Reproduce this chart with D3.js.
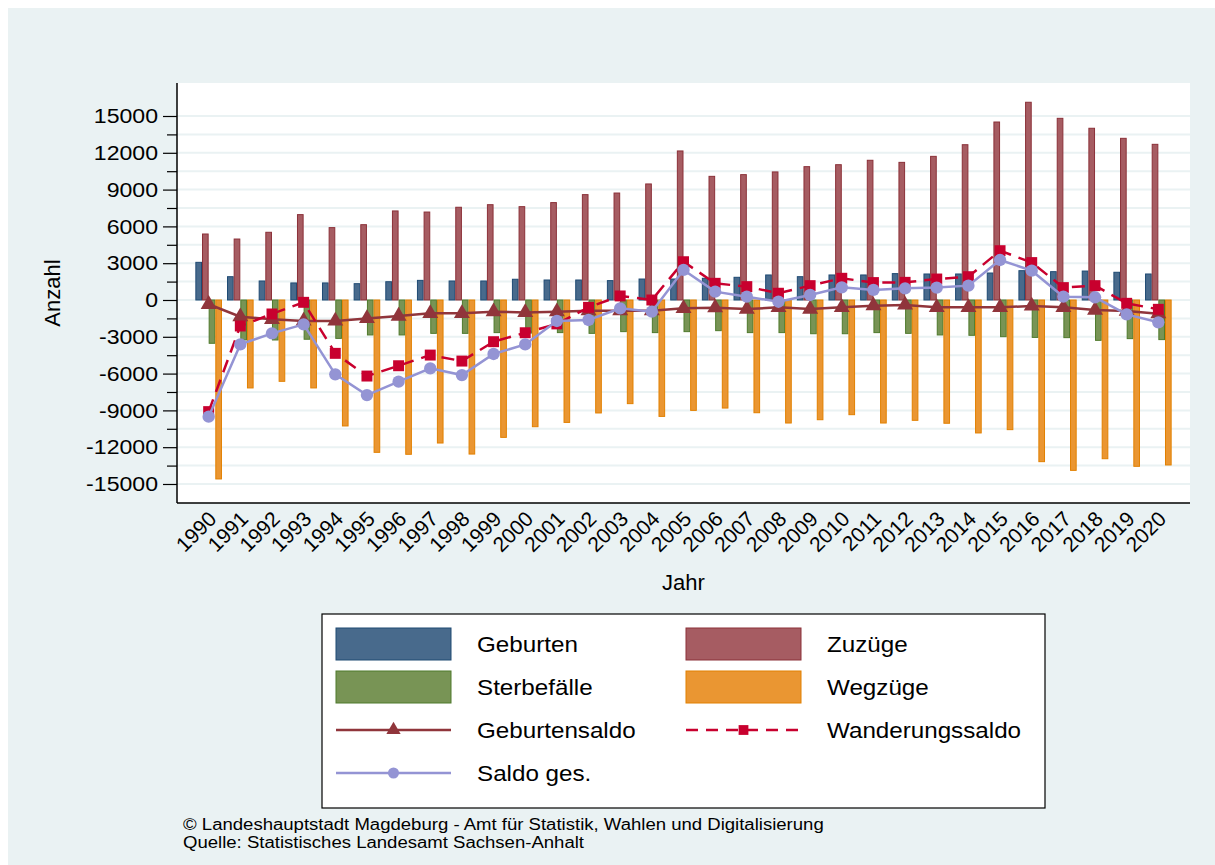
<!DOCTYPE html>
<html>
  <head>
    <title>Bevölkerungsbewegung Magdeburg</title>
    <meta http-equiv="Content-Type" content="text/html; charset=utf-8">
    <style type="text/css">
      body { margin: 0; background: #fff; }
      text { font-family: "Liberation Sans", Arial, sans-serif; fill: #000; }
      .grid line { stroke: #eaf2f3; stroke-width: 2; }
    </style>
  </head>
  <body>
    <div id="main"></div>

    <script src="https://d3js.org/d3.v7.min.js"></script>
    <script>
    // chart data
    var years = [1990, 1991, 1992, 1993, 1994, 1995, 1996, 1997, 1998, 1999, 2000,
                 2001, 2002, 2003, 2004, 2005, 2006, 2007, 2008, 2009, 2010,
                 2011, 2012, 2013, 2014, 2015, 2016, 2017, 2018, 2019, 2020];
    var geburten = [3070, 1900, 1550, 1390, 1390, 1330, 1490, 1600, 1550, 1550, 1690,
                    1630, 1630, 1580, 1710, 1710, 1770, 1850, 2040, 1900, 2040,
                    2040, 2150, 2120, 2120, 2200, 2390, 2310, 2360, 2260, 2120];
    var zuzuege = [5380, 4970, 5520, 6960, 5900, 6140, 7260, 7170, 7560, 7770, 7610,
                   7940, 8590, 8720, 9460, 12150, 10080, 10220, 10440, 10870, 11030,
                   11390, 11220, 11710, 12660, 14510, 16120, 14810, 14000, 13180, 12690];
    var sterbefaelle = [-3530, -3260, -3260, -3200, -3130, -2850, -2850, -2720, -2720, -2660, -2700,
                        -2660, -2720, -2580, -2660, -2580, -2500, -2660, -2660, -2750, -2750,
                        -2660, -2720, -2850, -2880, -2990, -3050, -3070, -3290, -3150, -3230];
    var wegzuege = [-14590, -7170, -6630, -7170, -10270, -12420, -12580, -11660, -12560, -11200, -10330,
                    -9980, -9210, -8450, -9490, -9000, -8810, -9190, -10030, -9760, -9350,
                    -10030, -9810, -10050, -10840, -10570, -13180, -13890, -12940, -13560, -13450];
    var geburtensaldo = [-350, -1360, -1580, -1710, -1710, -1500, -1310, -1090, -1090, -950, -1010,
                         -950, -870, -870, -870, -680, -630, -740, -600, -740, -600,
                         -470, -410, -600, -600, -600, -490, -600, -820, -900, -1120];
    var wanderungssaldo = [-9100, -2120, -1140, -190, -4350, -6200, -5360, -4490, -4980, -3400, -2670,
                           -1950, -600, 330, 0, 3120, 1360, 1090, 550, 1170, 1770,
                           1420, 1440, 1710, 1900, 4020, 3050, 1010, 1170, -270, -760];
    var saldoGes = [-9510, -3620, -2720, -1990, -6060, -7750, -6660, -5570, -6120, -4400, -3620,
                    -1710, -1630, -680, -950, 2450, 680, 270, -140, 410, 1030,
                    820, 950, 1010, 1170, 3260, 2390, 270, 220, -1170, -1820];
    var yTicks = [-15000, -12000, -9000, -6000, -3000, 0, 3000, 6000, 9000, 12000, 15000];
    var yMinorTicks = [-13500, -10500, -7500, -4500, -1500, 1500, 4500, 7500, 10500, 13500];

    var barSeries = [
      {key: "geb", label: "Geburten", values: geburten, fill: "#486a8c", stroke: "#1f4a73"},
      {key: "zuz", label: "Zuzüge", values: zuzuege, fill: "#a65c62", stroke: "#8b3038"},
      {key: "ster", label: "Sterbefälle", values: sterbefaelle, fill: "#789455", stroke: "#4f7a2c"},
      {key: "weg", label: "Wegzüge", values: wegzuege, fill: "#ea9632", stroke: "#e28000"}
    ];
    var lineSeries = [
      {label: "Geburtensaldo", values: geburtensaldo, color: "#90353b", marker: "triangle", dash: null},
      {label: "Wanderungssaldo", values: wanderungssaldo, color: "#c8002e", marker: "square", dash: "13,8"},
      {label: "Saldo ges.", values: saldoGes, color: "#9494d4", marker: "circle", dash: null}
    ];

    var W = 1215, H = 865;
    var plot = {left: 177, right: 1190, top: 83, bottom: 503};
    var stretch = 1.1; // the reference font is a bit wider than Liberation Sans

    var svg = d3.select("#main").append("svg")
        .attr("width", W)
        .attr("height", H);

    // background panel
    svg.append("rect")
        .attr("x", 8).attr("y", 8)
        .attr("width", W - 8).attr("height", H - 8)
        .attr("fill", "#eaf2f3");
    svg.append("rect")
        .attr("x", plot.left).attr("y", plot.top)
        .attr("width", plot.right - plot.left).attr("height", plot.bottom - plot.top)
        .attr("fill", "#fff");

    // scales
    var x = d3.scalePoint().domain(years).range([plot.left, plot.right]).padding(1);
    var y = d3.scaleLinear().domain([-16550, 17690]).range([plot.bottom, plot.top]);
    var sub = d3.scaleBand().domain(barSeries.map(function(d) { return d.key; })).range([-13.3, 13.3]);

    // grid lines
    svg.append("g").attr("class", "grid")
      .selectAll("line")
      .data(yTicks.concat(yMinorTicks))
      .enter().append("line")
        .attr("x1", plot.left).attr("x2", plot.right)
        .attr("y1", function(d) { return y(d); })
        .attr("y2", function(d) { return y(d); });

    // bars
    barSeries.forEach(function(s) {
      svg.append("g")
        .selectAll("rect")
        .data(s.values)
        .enter().append("rect")
          .attr("x", function(d, i) { return x(years[i]) + sub(s.key) + 0.5; })
          .attr("width", sub.bandwidth() - 1)
          .attr("y", function(d) { return Math.min(y(d), y(0)); })
          .attr("height", function(d) { return Math.abs(y(d) - y(0)); })
          .attr("fill", s.fill)
          .attr("stroke", s.stroke)
          .attr("stroke-width", 1);
    });

    // markers
    function drawMarker(g, type, cx, cy, color, size) {
      var sym = type === "triangle" ? d3.symbolTriangle : (type === "square" ? d3.symbolSquare : d3.symbolCircle);
      g.append("path")
        .attr("d", d3.symbol().type(sym).size(size)())
        .attr("transform", "translate(" + cx + "," + cy + ")")
        .attr("fill", color);
    }
    var markerSize = {triangle: 110, square: 120, circle: 120};

    // lines
    lineSeries.forEach(function(s) {
      var line = d3.line()
        .x(function(d, i) { return x(years[i]); })
        .y(function(d) { return y(d); });
      svg.append("path")
        .attr("d", line(s.values))
        .attr("fill", "none")
        .attr("stroke", s.color)
        .attr("stroke-width", 2.5)
        .attr("stroke-dasharray", s.dash);
      var g = svg.append("g");
      s.values.forEach(function(d, i) {
        drawMarker(g, s.marker, x(years[i]), y(d), s.color, markerSize[s.marker]);
      });
    });

    // y axis
    var yAxis = svg.append("g")
        .attr("transform", "translate(" + plot.left + ",0)")
        .call(d3.axisLeft(y).tickValues(yTicks).tickSize(14).tickPadding(5).tickSizeOuter(0)
          .tickFormat(function(d) { return String(d); }));
    yAxis.select(".domain").remove();
    yAxis.selectAll("text")
        .attr("x", -19 / stretch)
        .attr("transform", "scale(" + stretch + ",1)")
        .style("font-family", "Liberation Sans, Arial, sans-serif")
        .style("font-size", "21px");
    yAxis.selectAll("line").attr("stroke", "#000").attr("stroke-width", 1.2);
    svg.append("g")
        .attr("transform", "translate(" + plot.left + ",0)")
        .call(d3.axisLeft(y).tickValues(yMinorTicks).tickSize(10).tickFormat("").tickSizeOuter(0))
        .call(function(g) { g.select(".domain").remove(); })
        .selectAll("line").attr("stroke", "#000").attr("stroke-width", 1.2);
    svg.append("line")
        .attr("x1", plot.left).attr("x2", plot.left)
        .attr("y1", plot.top).attr("y2", plot.bottom)
        .attr("stroke", "#000").attr("stroke-width", 1.5);

    // x axis
    svg.append("line")
        .attr("x1", plot.left).attr("x2", plot.right)
        .attr("y1", plot.bottom).attr("y2", plot.bottom)
        .attr("stroke", "#000").attr("stroke-width", 1.5);
    svg.append("g")
      .selectAll("text")
      .data(years)
      .enter().append("text")
        .attr("transform", function(d) { return "translate(" + (x(d) + 4) + "," + (plot.bottom + 12) + ") rotate(-45)"; })
        .attr("text-anchor", "end")
        .attr("dy", "0.35em")
        .style("font-size", "21px")
        .text(function(d) { return d; });

    // axis titles
    svg.append("text")
        .attr("transform", "translate(60,293) rotate(-90)")
        .attr("text-anchor", "middle")
        .style("font-size", "22px")
        .text("Anzahl");
    svg.append("text")
        .attr("x", (plot.left + plot.right) / 2)
        .attr("y", 590)
        .attr("text-anchor", "middle")
        .style("font-size", "22px")
        .text("Jahr");

    // legend
    var legend = svg.append("g");
    legend.append("rect")
        .attr("x", 322).attr("y", 614)
        .attr("width", 723).attr("height", 194)
        .attr("fill", "#fff")
        .attr("stroke", "#000").attr("stroke-width", 1.2);
    var legendItems = [
      {type: "bar", s: barSeries[0], col: 0, row: 0},
      {type: "bar", s: barSeries[1], col: 1, row: 0},
      {type: "bar", s: barSeries[2], col: 0, row: 1},
      {type: "bar", s: barSeries[3], col: 1, row: 1},
      {type: "line", s: lineSeries[0], col: 0, row: 2},
      {type: "line", s: lineSeries[1], col: 1, row: 2},
      {type: "line", s: lineSeries[2], col: 0, row: 3}
    ];
    legendItems.forEach(function(it) {
      var sx = it.col === 0 ? 336 : 686;
      var cy = 644 + it.row * 43;
      if (it.type === "bar") {
        legend.append("rect")
          .attr("x", sx).attr("y", cy - 16)
          .attr("width", 115).attr("height", 32)
          .attr("fill", it.s.fill)
          .attr("stroke", it.s.stroke).attr("stroke-width", 1);
      } else {
        legend.append("line")
          .attr("x1", sx).attr("x2", sx + 115)
          .attr("y1", cy).attr("y2", cy)
          .attr("stroke", it.s.color).attr("stroke-width", 2.5)
          .attr("stroke-dasharray", it.s.dash ? "12,8" : null);
        drawMarker(legend, it.s.marker, sx + 57.5, cy, it.s.color, markerSize[it.s.marker] * 0.8);
      }
      legend.append("text")
        .attr("transform", "translate(" + (sx + 141) + "," + (cy + 8) + ") scale(" + stretch + ",1)")
        .style("font-size", "22px")
        .text(it.s.label);
    });

    // footer
    svg.append("text")
        .attr("transform", "translate(183,830) scale(1.16,1)")
        .style("font-size", "16px")
        .text("©  Landeshauptstadt Magdeburg - Amt für Statistik, Wahlen und Digitalisierung");
    svg.append("text")
        .attr("transform", "translate(183,848) scale(1.16,1)")
        .style("font-size", "16px")
        .text("Quelle: Statistisches Landesamt Sachsen-Anhalt");
    </script>
  </body>
</html>
